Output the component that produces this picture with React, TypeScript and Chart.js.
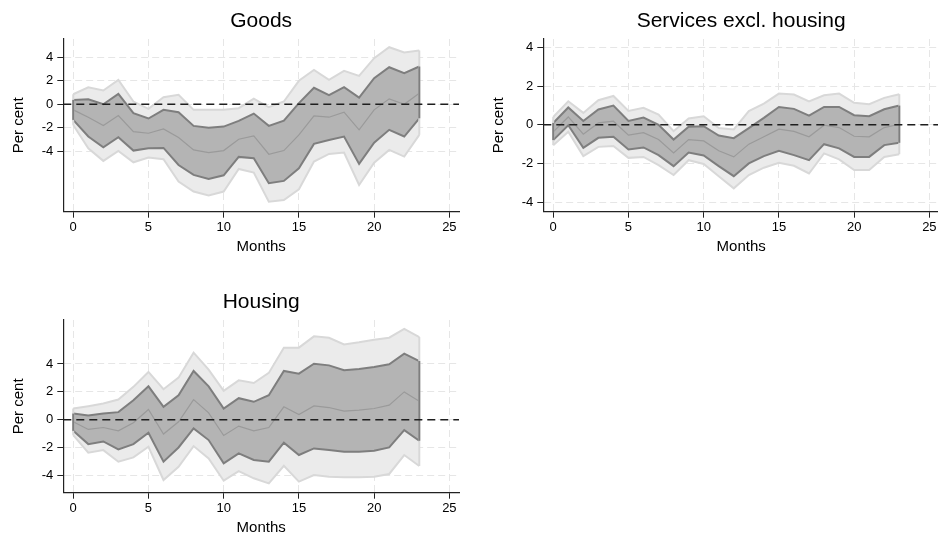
import React, { useEffect, useRef } from "react";
import { Chart, registerables } from "chart.js";

Chart.register(...registerables);

// ---------- data ----------
const months = [0, 1, 2, 3, 4, 5, 6, 7, 8, 9, 10, 11, 12, 13, 14, 15, 16, 17, 18, 19, 20, 21, 22, 23];
const xTickValues = [0, 5, 10, 15, 20, 25];
const yTickValues = [-4, -2, 0, 2, 4];

const goodsOuterUpper = [0.85, 1.45, 1.17, 2.08, 0.23, -0.4, 0.6, 0.8, -0.48, -0.48, -0.48, -0.34, 0.48, -0.26, 0.23, 2.0, 2.93, 2.08, 2.85, 2.42, 3.93, 4.87, 4.42, 4.59];
const goodsInnerUpper = [0.37, 0.43, 0.0, 0.88, -0.77, -1.22, -0.48, -0.68, -1.85, -2.0, -1.91, -1.42, -0.8, -1.85, -1.4, 0.09, 1.4, 0.77, 1.45, 0.57, 2.22, 3.16, 2.65, 3.22];
const goodsMiddle = [-0.48, -1.11, -1.82, -0.97, -2.34, -2.48, -2.11, -2.85, -3.9, -4.13, -3.96, -2.99, -2.7, -4.27, -3.96, -2.62, -1.0, -1.11, -0.68, -2.19, -0.48, 0.46, 0.0, 0.94];
const goodsInnerLower = [-1.34, -2.76, -3.68, -2.82, -3.96, -3.76, -3.73, -5.19, -6.04, -6.38, -6.07, -4.5, -4.62, -6.75, -6.55, -5.47, -3.39, -3.05, -2.76, -5.1, -3.28, -2.19, -2.76, -1.2];
const goodsOuterLower = [-1.77, -3.76, -4.84, -3.99, -4.96, -4.56, -4.7, -6.6, -7.46, -7.8, -7.46, -5.53, -5.84, -8.32, -8.18, -7.26, -4.9, -4.25, -4.13, -6.9, -4.99, -3.9, -4.47, -2.62];

const servOuterUpper = [0.41, 1.22, 0.62, 1.28, 1.5, 0.72, 0.88, 0.53, -0.33, 0.33, 0.45, -0.16, -0.24, 0.71, 1.1, 1.62, 1.57, 1.22, 1.53, 1.62, 1.14, 1.07, 1.4, 1.59];
const servInnerUpper = [0.1, 0.9, 0.2, 0.8, 1.0, 0.2, 0.38, 0.0, -0.76, -0.1, -0.07, -0.55, -0.69, -0.17, 0.36, 0.93, 0.83, 0.48, 0.93, 0.93, 0.5, 0.45, 0.81, 1.0];
const servMiddle = [-0.36, 0.41, -0.48, 0.1, 0.19, -0.53, -0.4, -0.76, -1.45, -0.76, -0.83, -1.34, -1.66, -1.0, -0.62, -0.22, -0.34, -0.62, -0.02, -0.14, -0.59, -0.62, -0.14, 0.03];
const servInnerLower = [-0.79, -0.02, -1.19, -0.67, -0.62, -1.28, -1.17, -1.57, -2.14, -1.43, -1.59, -2.14, -2.66, -2.0, -1.62, -1.34, -1.57, -1.83, -1.0, -1.22, -1.66, -1.66, -1.05, -0.93];
const servOuterLower = [-1.05, -0.36, -1.62, -1.14, -1.09, -1.71, -1.66, -2.09, -2.6, -1.83, -2.03, -2.66, -3.29, -2.6, -2.22, -1.97, -2.12, -2.52, -1.48, -1.79, -2.34, -2.34, -1.66, -1.52];

const housOuterUpper = [0.81, 0.98, 1.17, 1.45, 2.36, 3.43, 2.19, 3.02, 4.81, 3.6, 2.07, 2.83, 2.64, 3.36, 5.17, 5.17, 5.98, 5.88, 5.4, 5.55, 5.74, 5.88, 6.52, 5.93];
const housInnerUpper = [0.45, 0.31, 0.45, 0.55, 1.4, 2.4, 0.93, 1.76, 3.5, 2.4, 0.81, 1.55, 1.29, 1.76, 3.5, 3.31, 4.02, 3.9, 3.55, 3.64, 3.79, 3.98, 4.74, 4.21];
const housMiddle = [-0.14, -0.69, -0.55, -0.79, -0.21, 0.74, -1.02, -0.14, 1.45, 0.5, -1.12, -0.45, -0.79, -0.55, 0.93, 0.38, 1.0, 0.88, 0.62, 0.69, 0.81, 1.05, 2.0, 1.33];
const housInnerLower = [-0.79, -1.74, -1.55, -2.12, -1.74, -0.93, -3.0, -1.98, -0.62, -1.45, -3.12, -2.4, -2.88, -3.0, -1.64, -2.52, -2.05, -2.17, -2.29, -2.29, -2.21, -1.98, -0.74, -1.5];
const housOuterLower = [-1.1, -2.36, -2.17, -3.0, -2.69, -1.93, -4.31, -3.36, -1.88, -2.76, -4.36, -3.67, -4.19, -4.55, -3.29, -4.43, -3.95, -4.07, -4.12, -4.12, -4.07, -3.88, -2.52, -3.31];

const xAxisTitle = "Months";
const yAxisTitle = "Per cent";

// ---------- styles ----------
const FONT = '"Liberation Sans", Arial, Helvetica, sans-serif';
const OUTER_FILL = "#ebebeb";
const OUTER_EDGE = "#d8d8d8";
const INNER_FILL = "#b4b4b4";
const INNER_EDGE = "#7e7e7e";
const MID_LINE = "#9a9a9a";
const GRID = "#e6e6e6";
const AXIS = "#222222";

const W = 469;
const H = 270;

type PanelProps = {
  left: number;
  top: number;
  title: string;
  yMin: number;
  yMax: number;
  outerUpper: number[];
  innerUpper: number[];
  middle: number[];
  innerLower: number[];
  outerLower: number[];
};

const toPoints = (vals: number[]) => months.map((m, i) => ({ x: m, y: vals[i] }));

function Panel(p: PanelProps) {
  const ref = useRef<HTMLCanvasElement | null>(null);

  useEffect(() => {
    if (!ref.current) return;

    const titlePlugin = {
      id: "panelTitle",
      afterDraw(chart: any) {
        const { ctx, chartArea } = chart;
        ctx.save();
        ctx.font = `21px ${FONT}`;
        ctx.fillStyle = "#000";
        ctx.textAlign = "center";
        ctx.textBaseline = "alphabetic";
        ctx.fillText(p.title, (chartArea.left + chartArea.right) / 2, chartArea.top - 12);
        ctx.restore();
      },
    };

    const edgesPlugin = {
      id: "bandEdges",
      afterDatasetsDraw(chart: any) {
        const { ctx } = chart;
        const pairs: [number, number, string][] = [
          [3, 4, OUTER_EDGE],
          [1, 2, INNER_EDGE],
        ];
        ctx.save();
        for (const [a, b, col] of pairs) {
          const ma = chart.getDatasetMeta(a).data;
          const mb = chart.getDatasetMeta(b).data;
          if (!ma.length || !mb.length) continue;
          ctx.strokeStyle = col;
          ctx.lineWidth = 2;
          ctx.setLineDash([]);
          for (const idx of [0, ma.length - 1]) {
            ctx.beginPath();
            ctx.moveTo(ma[idx].x, ma[idx].y);
            ctx.lineTo(mb[idx].x, mb[idx].y);
            ctx.stroke();
          }
        }
        ctx.restore();
      },
    };

    const zeroPlugin = {
      id: "zeroLine",
      afterDatasetsDraw(chart: any) {
        const { ctx, chartArea, scales } = chart;
        const y = scales.y.getPixelForValue(0);
        ctx.save();
        ctx.strokeStyle = "#1e1e1e";
        ctx.lineWidth = 1.5;
        ctx.setLineDash([8, 5]);
        ctx.beginPath();
        ctx.moveTo(chartArea.left, y);
        ctx.lineTo(chartArea.right, y);
        ctx.stroke();
        ctx.restore();
      },
    };

    const chart = new Chart(ref.current, {
      type: "line",
      data: {
        datasets: [
          { data: toPoints(p.middle), borderColor: MID_LINE, borderWidth: 1.2, pointRadius: 0, fill: false },
          { data: toPoints(p.innerLower), borderColor: INNER_EDGE, borderWidth: 2, pointRadius: 0, fill: false },
          { data: toPoints(p.innerUpper), borderColor: INNER_EDGE, borderWidth: 2, pointRadius: 0, backgroundColor: INNER_FILL, fill: "-1" },
          { data: toPoints(p.outerLower), borderColor: OUTER_EDGE, borderWidth: 2, pointRadius: 0, fill: false },
          { data: toPoints(p.outerUpper), borderColor: OUTER_EDGE, borderWidth: 2, pointRadius: 0, backgroundColor: OUTER_FILL, fill: "-1" },
        ],
      },
      options: {
        animation: false,
        responsive: false,
        devicePixelRatio: 1,
        layout: { padding: { left: 0, right: 10, top: 39, bottom: 0 } },
        elements: { line: { tension: 0 } },
        plugins: {
          legend: { display: false },
          tooltip: { enabled: false },
          title: { display: false },
        },
        scales: {
          x: {
            type: "linear",
            min: -0.66,
            max: 25.64,
            afterFit(scale: any) {
              scale.height = 58.3;
            },
            afterBuildTicks(scale: any) {
              scale.ticks = xTickValues.map((v) => ({ value: v }));
            },
            ticks: {
              autoSkip: false,
              maxRotation: 0,
              padding: 2,
              color: "#000",
              font: { family: FONT, size: 13 },
              callback: (v: any) => String(v),
            },
            grid: { color: GRID, lineWidth: 1, tickLength: 6, tickColor: AXIS, tickWidth: 1 },
            border: { display: true, color: AXIS, width: 1.2, dash: [7, 4] },
            title: {
              display: true,
              text: xAxisTitle,
              color: "#000",
              font: { family: FONT, size: 15 },
              padding: { top: 0, bottom: 14.5 },
            },
          },
          y: {
            type: "linear",
            min: p.yMin,
            max: p.yMax,
            afterFit(scale: any) {
              scale.width = 63.3;
            },
            afterBuildTicks(scale: any) {
              scale.ticks = yTickValues.map((v) => ({ value: v }));
            },
            ticks: {
              autoSkip: false,
              padding: 4,
              color: "#000",
              font: { family: FONT, size: 13 },
              callback: (v: any) => String(v),
            },
            grid: { color: GRID, lineWidth: 1, tickLength: 6, tickColor: AXIS, tickWidth: 1 },
            border: { display: true, color: AXIS, width: 1.2, dash: [7, 4] },
            title: {
              display: true,
              text: yAxisTitle,
              color: "#000",
              font: { family: FONT, size: 15 },
              padding: { top: 10, bottom: 0 },
            },
          },
        },
      },
      plugins: [edgesPlugin, zeroPlugin, titlePlugin],
    } as any);

    return () => chart.destroy();
  }, []);

  return (
    <canvas
      ref={ref}
      width={W}
      height={H}
      style={{ position: "absolute", left: p.left, top: p.top, width: W, height: H }}
    />
  );
}

export default function App() {
  return (
    <div
      style={{
        position: "fixed",
        left: 0,
        top: 0,
        width: 938,
        height: 538,
        overflow: "hidden",
        background: "#fff",
      }}
    >
      <Panel
        left={0}
        top={0}
        title="Goods"
        yMin={-9.18}
        yMax={5.57}
        outerUpper={goodsOuterUpper}
        innerUpper={goodsInnerUpper}
        middle={goodsMiddle}
        innerLower={goodsInnerLower}
        outerLower={goodsOuterLower}
      />
      <Panel
        left={480}
        top={0}
        title="Services excl. housing"
        yMin={-4.5}
        yMax={4.45}
        outerUpper={servOuterUpper}
        innerUpper={servInnerUpper}
        middle={servMiddle}
        innerLower={servInnerLower}
        outerLower={servOuterLower}
      />
      <Panel
        left={0}
        top={281}
        title="Housing"
        yMin={-5.22}
        yMax={7.15}
        outerUpper={housOuterUpper}
        innerUpper={housInnerUpper}
        middle={housMiddle}
        innerLower={housInnerLower}
        outerLower={housOuterLower}
      />
    </div>
  );
}
